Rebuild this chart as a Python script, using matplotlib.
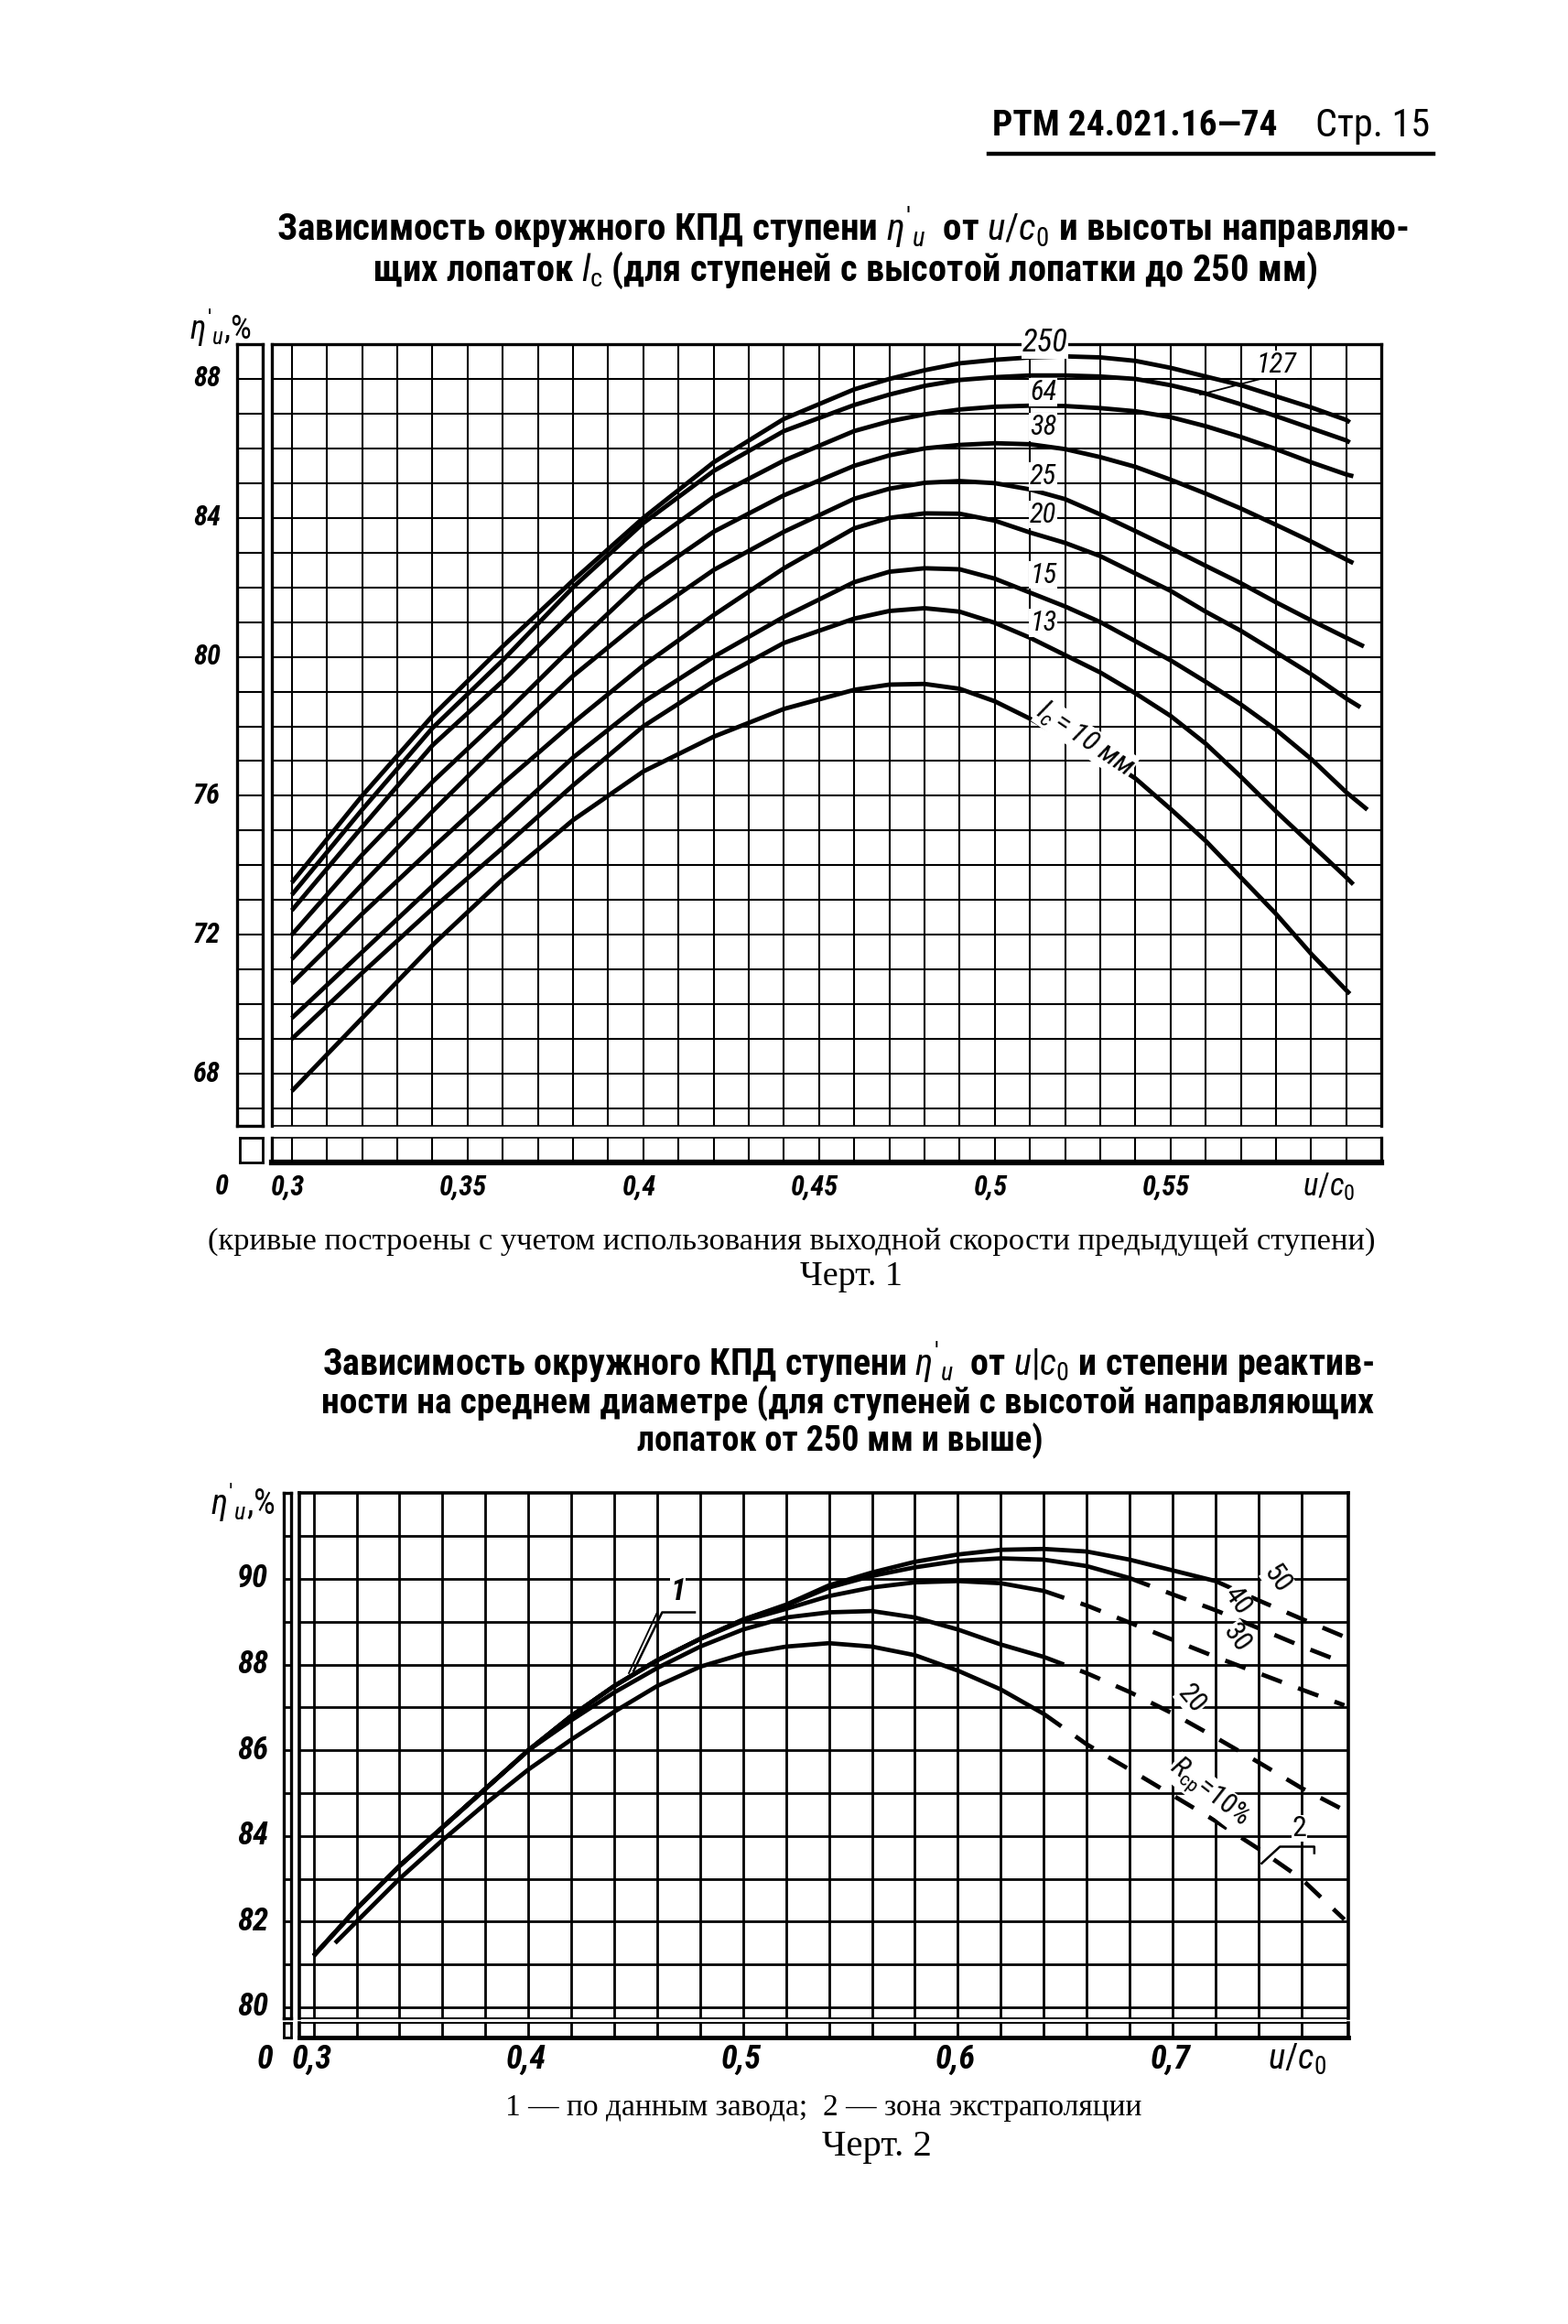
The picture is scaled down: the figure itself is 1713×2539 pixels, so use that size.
import numpy as np
import matplotlib
matplotlib.use("Agg")
import matplotlib.pyplot as plt
from matplotlib import font_manager as fm
from matplotlib.transforms import blended_transform_factory as blend


def pick_font(cands, default):
    for c in cands:
        try:
            fm.findfont(fm.FontProperties(family=c), fallback_to_default=False)
            return c
        except Exception:
            pass
    return default


NARROW = pick_font(["Liberation Sans Narrow", "Arial Narrow", "Roboto Condensed"], "Liberation Sans")
SERIF = pick_font(["Liberation Serif", "DejaVu Serif"], "DejaVu Serif")
plt.rcParams["font.family"] = [NARROW, "DejaVu Sans"]
plt.rcParams["mathtext.fontset"] = "custom"
plt.rcParams["mathtext.rm"] = NARROW
plt.rcParams["mathtext.it"] = NARROW + ":italic"
plt.rcParams["mathtext.bf"] = NARROW + ":bold"

# ------------------------------------------------------------------
# Chart 1 data: eta'_u (%) vs u/c0 for guide-blade heights l_c (mm)
# ------------------------------------------------------------------
uc_1 = [0.30, 0.32, 0.34, 0.36, 0.38, 0.40, 0.42, 0.44, 0.46, 0.47, 0.48, 0.49,
        0.50, 0.51, 0.52, 0.53, 0.54, 0.55, 0.56, 0.57, 0.58, 0.59, 0.60]
lc_labels = ["250", "127", "64", "38", "25", "20", "15", "13", "10"]
eta_lc250 = [73.5, 76.0, 78.3, 80.3, 82.2, 84.0, 85.6, 86.85, 87.7, 88.0, 88.25, 88.45,
             88.55, 88.62, 88.65, 88.62, 88.52, 88.32, 88.07, 87.82, 87.5, 87.18, 86.82]
eta_lc127 = [73.15, 75.6, 77.95, 79.9, 82.0, 83.85, 85.35, 86.5, 87.25, 87.55, 87.8, 87.97,
             88.05, 88.1, 88.1, 88.07, 88.0, 87.82, 87.58, 87.27, 86.93, 86.58, 86.23]
eta_lc64 = [72.7, 75.1, 77.45, 79.3, 81.3, 83.15, 84.6, 85.65, 86.5, 86.78, 86.98, 87.12,
            87.2, 87.23, 87.22, 87.16, 87.07, 86.9, 86.64, 86.33, 85.98, 85.6, 85.25]
eta_lc38 = [72.0, 74.3, 76.4, 78.3, 80.3, 82.2, 83.6, 84.65, 85.5, 85.8, 86.0, 86.1,
            86.15, 86.12, 85.98, 85.75, 85.47, 85.1, 84.7, 84.27, 83.8, 83.32, 82.8]
eta_lc25 = [71.3, 73.45, 75.55, 77.55, 79.45, 81.1, 82.5, 83.6, 84.55, 84.84, 85.01, 85.06,
            85.0, 84.82, 84.54, 84.1, 83.62, 83.13, 82.62, 82.12, 81.57, 81.05, 80.55]
eta_lc20 = [70.6, 72.6, 74.5, 76.35, 78.1, 79.75, 81.2, 82.55, 83.7, 84.0, 84.13, 84.12,
            83.92, 83.58, 83.28, 82.9, 82.4, 81.9, 81.3, 80.75, 80.13, 79.5, 78.8]
eta_lc15 = [69.6, 71.5, 73.4, 75.25, 77.1, 78.7, 80.0, 81.15, 82.15, 82.45, 82.55, 82.52,
            82.25, 81.85, 81.45, 81.0, 80.45, 79.9, 79.28, 78.63, 77.9, 77.06, 76.1]
eta_lc13 = [69.0, 70.9, 72.75, 74.5, 76.3, 78.0, 79.3, 80.4, 81.1, 81.32, 81.4, 81.3,
            80.98, 80.55, 80.05, 79.55, 78.95, 78.3, 77.5, 76.55, 75.55, 74.6, 73.65]
eta_lc10 = [67.5, 69.6, 71.7, 73.6, 75.3, 76.7, 77.7, 78.5, 79.05, 79.2, 79.22, 79.08,
            78.72, 78.22, 77.65, 77.15, 76.5, 75.62, 74.7, 73.65, 72.6, 71.45, 70.4]
end_uc_1 = [0.601, 0.601, 0.602, 0.602, 0.605, 0.604, 0.606, 0.602, 0.601]
end_eta_1 = [86.75, 86.17, 85.2, 82.7, 80.3, 78.55, 75.6, 73.45, 70.3]
c1_x_ticks = [0.30, 0.35, 0.40, 0.45, 0.50, 0.55]
c1_x_ticklabels = ["0,3", "0,35", "0,4", "0,45", "0,5", "0,55"]
c1_y_ticks = [88, 84, 80, 76, 72, 68]

# ------------------------------------------------------------------
# Chart 2 data: eta'_u (%) vs u/c0 for reaction degree R_cp (%)
# ------------------------------------------------------------------
uc_2 = [0.30, 0.31, 0.32, 0.34, 0.36, 0.38, 0.40, 0.42, 0.44, 0.46, 0.48, 0.50, 0.52,
        0.54, 0.56, 0.58, 0.60, 0.62, 0.64, 0.66, 0.68, 0.70, 0.72, 0.74, 0.76, 0.78]
r_labels = ["50", "40", "30", "20", "10"]
eta_r50 = [81.2, 81.75, 82.3, 83.3, 84.2, 85.1, 86.0, 86.8, 87.5, 88.1, 88.6, 89.05, 89.4,
           89.85, 90.15, 90.4, 90.57, 90.68, 90.7, 90.64, 90.45, 90.2, 89.95, 89.5, 89.07, 88.65]
eta_r40 = [81.2, 81.75, 82.3, 83.3, 84.2, 85.1, 86.0, 86.8, 87.5, 88.1, 88.6, 89.05, 89.38,
           89.8, 90.07, 90.27, 90.42, 90.48, 90.45, 90.3, 90.02, 89.64, 89.27, 88.85, 88.43, 88.04]
eta_r30 = [81.2, 81.75, 82.3, 83.3, 84.2, 85.1, 86.0, 86.8, 87.5, 88.1, 88.6, 89.02, 89.3,
           89.6, 89.8, 89.92, 89.95, 89.9, 89.72, 89.38, 88.98, 88.58, 88.18, 87.8, 87.42, 87.05]
eta_r20 = [81.2, 81.75, 82.3, 83.3, 84.2, 85.1, 86.0, 86.7, 87.35, 87.92, 88.42, 88.82, 89.1,
           89.22, 89.25, 89.1, 88.82, 88.47, 88.18, 87.8, 87.36, 86.86, 86.3, 85.72, 85.12, 84.6]
eta_r10 = [np.nan, 81.5, 82.0, 83.0, 83.9, 84.75, 85.55, 86.25, 86.9, 87.5, 87.95, 88.25, 88.42,
           88.5, 88.42, 88.22, 87.86, 87.42, 86.85, 86.14, 85.55, 84.95, 84.35, 83.7, 83.0, 82.05]
solid_end_2 = [0.72, 0.68, 0.64, 0.64, 0.64]   # beyond: extrapolation zone (dashed)
c2_x_ticks = [0.3, 0.4, 0.5, 0.6, 0.7]
c2_x_ticklabels = ["0,3", "0,4", "0,5", "0,6", "0,7"]
c2_y_ticks = [90, 88, 86, 84, 82, 80]

# ------------------------------------------------------------------
W, H, DPI = 1713, 2539, 100
fig = plt.figure(figsize=(W / DPI, H / DPI), dpi=DPI)
fig.patch.set_facecolor("white")
renderer = fig.canvas.get_renderer()


def axes_px(x0, y0, x1, y1, lw=2.0):
    ax = fig.add_axes([x0 / W, 1 - y1 / H, (x1 - x0) / W, (y1 - y0) / H])
    ax.set_xticks([])
    ax.set_yticks([])
    ax.patch.set_alpha(0)
    for s in ax.spines.values():
        s.set_linewidth(lw)
    return ax


def fit_text(x_px, y_px, s, width_px, ha="center", **kw):
    t = fig.text(x_px / W, 1 - y_px / H, s, ha=ha, va="center", **kw)
    bb = t.get_window_extent(renderer=renderer)
    t.set_fontsize(t.get_fontsize() * width_px / bb.width)
    return t


# ---------------- header ----------------
fit_text(1084, 137, "РТМ 24.021.16—74", 312, ha="left", fontweight="bold", fontsize=24)
fit_text(1437, 137, "Стр. 15", 125, ha="left", fontsize=24)
fig.add_artist(plt.Line2D([1080 / W, 1566 / W], [1 - 168 / H, 1 - 168 / H], color="k", lw=3.2))

# ---------------- chart 1 titles ----------------
fit_text(921, 248, r"Зависимость окружного КПД ступени $\eta'_u$  от $u/c_0$ и высоты направляю-",
         1240, fontweight="bold", fontsize=24)
fit_text(923, 295, r"щих лопаток $l_{\rm c}$ (для ступеней с высотой лопатки до 250 мм)",
         1035, fontweight="bold", fontsize=24)

# ---------------- chart 1 axes ----------------
def c1_u(px):
    return 0.30 + (px - 318.8) / 3840.0


def c1_v(py):
    return 88.0 - (py - 414.0) / 37.95


C1_TOP = 414.0 - 37.95           # pixel row of eta = 89 (top frame)
ax1 = axes_px(297, C1_TOP, 1509, 1230, lw=2.4)
ax1.set_xlim(c1_u(297), c1_u(1509))
ax1.set_ylim(c1_v(1230), 89.0)
ax1.spines["bottom"].set_linewidth(1.2)
grid_u1 = np.round(np.arange(30, 61) / 100.0, 2)
for u in grid_u1:
    ax1.axvline(u, color="k", lw=1.5, zorder=1)
for v in range(67, 89):
    ax1.axhline(v, color="k", lw=1.5, zorder=1)

ax1b = axes_px(297, 1243, 1509, 1270, lw=2.4)
ax1b.set_xlim(ax1.get_xlim())
ax1b.set_ylim(0, 1)
ax1b.spines["bottom"].set_linewidth(4.5)
ax1b.spines["top"].set_linewidth(1.2)
for u in grid_u1:
    ax1b.axvline(u, color="k", lw=1.5)

ax1l = axes_px(259, C1_TOP, 287, 1230, lw=2.4)
ax1l.set_xlim(0, 1)
ax1l.set_ylim(ax1.get_ylim())
for v in range(67, 89):
    ax1l.axhline(v, color="k", lw=1.5)
ax1c = axes_px(262, 1243, 287, 1270, lw=2.0)

curves_1 = [eta_lc250, eta_lc127, eta_lc64, eta_lc38, eta_lc25, eta_lc20, eta_lc15, eta_lc13, eta_lc10]
for eta, eu, ee in zip(curves_1, end_uc_1, end_eta_1):
    ax1.plot(uc_1 + [eu], eta + [ee], color="k", lw=3.5, solid_capstyle="butt",
             solid_joinstyle="round", zorder=3)

lab_kw = dict(ha="center", va="center", style="italic", zorder=5,
              bbox=dict(facecolor="white", edgecolor="none", pad=0.6))
ax1.text(0.5142, 89.05, lc_labels[0], fontsize=25, **lab_kw)
ax1.text(0.5800, 88.42, lc_labels[1], fontsize=22, **lab_kw)
ax1.plot([0.5775, 0.5584], [88.05, 87.55], color="k", lw=1.3, zorder=4)
label_v = [87.62, 86.62, 85.19, 84.1, 82.36, 80.97]
for lab, v in zip(lc_labels[2:8], label_v):
    ax1.text(0.5138, v, lab, fontsize=22, **lab_kw)
ax1.text(0.5258, 77.62, r"$l_c = $10 мм", fontsize=23, rotation=-34,
         ha="center", va="center", style="italic", zorder=5,
         bbox=dict(facecolor="white", edgecolor="none", pad=0.3))

# tick labels chart 1
tl_kw = dict(fontweight="bold", style="italic", ha="center", va="center")
tr_y1 = blend(fig.transFigure, ax1.transData)
for v in c1_y_ticks:
    ax1.text(226 / W, v, str(v), transform=tr_y1, fontsize=22, **tl_kw)
tr_x1 = blend(ax1.transData, fig.transFigure)
for u, lab in zip(c1_x_ticks, c1_x_ticklabels):
    ax1.text(u - 0.0012, 1 - 1297 / H, lab, transform=tr_x1, fontsize=22, **tl_kw)
fig.text(242 / W, 1 - 1297 / H, "0", fontsize=22, **tl_kw)
fig.text(1452 / W, 1 - 1297 / H, r"$u/c_0$", fontsize=25, ha="center", va="center")
fig.text(241 / W, 1 - 358 / H, r"$\eta'_u$,%", fontsize=26, ha="center", va="center")

fit_text(865, 1357, "(кривые построены с учетом использования выходной скорости предыдущей ступени)",
         1272, family=SERIF, fontsize=18)
fit_text(930, 1395, "Черт. 1", 112, family=SERIF, fontsize=20)

# ---------------- chart 2 titles ----------------
fit_text(927, 1488, r"Зависимость окружного КПД ступени $\eta'_u$  от $u|c_0$ и степени реактив-",
         1150, fontweight="bold", fontsize=24)
fit_text(926, 1533, "ности на среднем диаметре (для ступеней с высотой направляющих",
         1150, fontweight="bold", fontsize=24)
fit_text(918, 1574, "лопаток от 250 мм и выше)", 445, fontweight="bold", fontsize=24)

# ---------------- chart 2 axes ----------------
def c2_u(px):
    return 0.60 + (px - 1046.4) / 2346.0


def c2_v(py):
    return 90.0 - (py - 1725.0) / 46.8


C2_TOP = 1725.0 - 2 * 46.8
ax2 = axes_px(327, C2_TOP, 1473, 2205, lw=2.6)
ax2.set_xlim(c2_u(327), c2_u(1473))
ax2.set_ylim(c2_v(2205), 92.0)
ax2.spines["bottom"].set_linewidth(1.4)
grid_u2 = np.round(np.arange(30, 77, 2) / 100.0, 2)
for u in grid_u2:
    ax2.axvline(u, color="k", lw=2.0, zorder=1)
for v in range(80, 92):
    ax2.axhline(v, color="k", lw=2.0, zorder=1)

ax2b = axes_px(327, 2210, 1473, 2226, lw=2.6)
ax2b.set_xlim(ax2.get_xlim())
ax2b.set_ylim(0, 1)
ax2b.spines["bottom"].set_linewidth(3.5)
ax2b.spines["top"].set_linewidth(1.4)
for u in grid_u2:
    ax2b.axvline(u, color="k", lw=2.0)

ax2l = axes_px(310, C2_TOP, 318, 2205, lw=2.4)
ax2l.set_xlim(0, 1)
ax2l.set_ylim(ax2.get_ylim())
for v in range(80, 92):
    ax2l.axhline(v, color="k", lw=2.0)
ax2c = axes_px(310, 2210, 318, 2226, lw=2.0)

u2 = np.array(uc_2)
curves_2 = [eta_r50, eta_r40, eta_r30, eta_r20, eta_r10]
for eta, se in zip(curves_2, solid_end_2):
    e = np.array(eta, dtype=float)
    ms = u2 <= se + 1e-9
    md = u2 >= se - 1e-9
    ax2.plot(u2[ms], e[ms], color="k", lw=3.4, solid_capstyle="butt", zorder=3)
    ax2.plot(u2[md], e[md], color="k", lw=3.4, linestyle=(0, (5, 4)),
             dash_capstyle="butt", zorder=3)

lab2_kw = dict(ha="center", va="center", zorder=5,
               bbox=dict(facecolor="white", edgecolor="none", pad=0.2))
ax2.text(0.749, 89.98, r_labels[0], fontsize=22, rotation=-55, **lab2_kw)
ax2.text(0.730, 89.5, r_labels[1], fontsize=22, rotation=-55, **lab2_kw)
ax2.text(0.730, 88.62, r_labels[2], fontsize=22, rotation=-55, **lab2_kw)
ax2.text(0.709, 87.2, r_labels[3], fontsize=22, rotation=-50, **lab2_kw)
ax2.text(0.717, 85.0, r"$R_{\mathrm{ср}}$=10%", fontsize=22, rotation=-38, **lab2_kw)
ax2.text(0.759, 84.18, "2", fontsize=23, **lab2_kw)
ax2.plot([0.766, 0.766, 0.750, 0.7415], [83.6, 83.75, 83.75, 83.36], color="k", lw=1.8, zorder=4)
ax2.text(0.4697, 89.7, "1", fontsize=24, style="italic", fontweight="bold", **lab2_kw)
ax2.plot([0.4775, 0.4623, 0.4490], [89.22, 89.22, 87.85], color="k", lw=1.8, zorder=4)
ax2.plot([0.4600, 0.4468], [89.22, 87.80], color="k", lw=1.3, zorder=4)

tr_y2 = blend(fig.transFigure, ax2.transData)
for v in c2_y_ticks:
    ax2.text(276 / W, v, str(v), transform=tr_y2, fontsize=25, **tl_kw)
tr_x2 = blend(ax2.transData, fig.transFigure)
for u, lab in zip(c2_x_ticks, c2_x_ticklabels):
    ax2.text(u - 0.001, 1 - 2250 / H, lab, transform=tr_x2, fontsize=26, **tl_kw)
fig.text(290 / W, 1 - 2250 / H, "0", fontsize=26, **tl_kw)
fig.text(1417 / W, 1 - 2250 / H, r"$u/c_0$", fontsize=28, ha="center", va="center")
fig.text(265 / W, 1 - 1640 / H, r"$\eta'_u$,%", fontsize=27, ha="center", va="center")

fit_text(900, 2303, "1 — по данным завода;  2 — зона экстраполяции", 695, family=SERIF, fontsize=18)
fit_text(958, 2345, "Черт. 2", 120, family=SERIF, fontsize=20)

fig.savefig("out.png", dpi=DPI, facecolor="white")
